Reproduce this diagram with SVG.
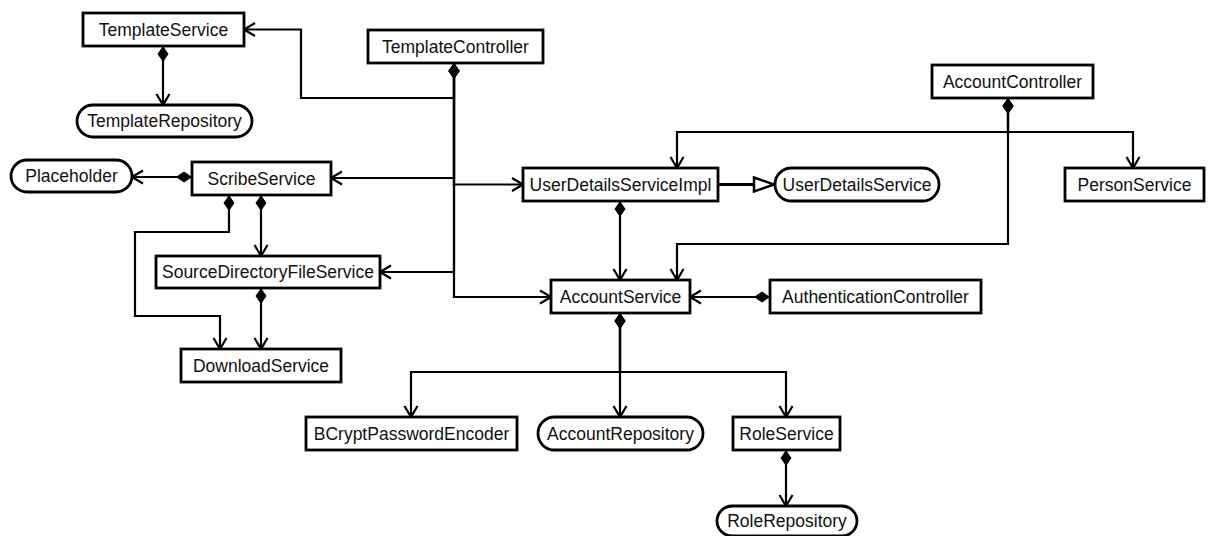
<svg xmlns="http://www.w3.org/2000/svg" width="1208" height="536" viewBox="0 0 1208 536">
  <style>
    .box { fill: #fff; stroke: #000; stroke-width: 2.8; }
    .lbl { font-family: "Liberation Sans", Arial, sans-serif; font-size: 17.5px; fill: #111; text-anchor: middle; }
    .edge { fill: none; stroke: #000; stroke-width: 2.2; marker-start: url(#comp); marker-end: url(#dep); }
    .impl { fill: none; stroke: #000; stroke-width: 3; marker-end: url(#gen); }
  </style>
  <defs>
    <!-- filled composition diamond at the owning end -->
    <marker id="comp" markerUnits="userSpaceOnUse" orient="auto" refX="0" refY="0" markerWidth="20" markerHeight="14" overflow="visible">
      <path d="M0,0 L8,-5.5 L16,0 L8,5.5 Z" fill="#000" stroke="none"/>
    </marker>
    <!-- open dependency arrowhead -->
    <marker id="dep" markerUnits="userSpaceOnUse" orient="auto" refX="0" refY="0" markerWidth="14" markerHeight="16" overflow="visible">
      <path d="M-11,-6.5 L0,0 L-11,6.5" fill="none" stroke="#000" stroke-width="2.2"/>
    </marker>
    <!-- hollow generalisation triangle -->
    <marker id="gen" markerUnits="userSpaceOnUse" orient="auto" refX="0" refY="0" markerWidth="26" markerHeight="18" overflow="visible">
      <path d="M-21,-7 L-1,0 L-21,7 Z" fill="#fff" stroke="#000" stroke-width="2.5"/>
    </marker>
  </defs>

  <rect width="1208" height="536" fill="#fff"/>

  <g id="connectors">
    <path class="edge" d="M454,63 V98 H301 V29.5 H244"/>
    <path class="edge" d="M454,63 V178 H331"/>
    <path class="edge" d="M454,63 V184.5 H523"/>
    <path class="edge" d="M454,63 V272 H380"/>
    <path class="edge" d="M454,63 V297 H551"/>
    <path class="edge" d="M163,46 V105"/>
    <path class="edge" d="M192,177 H132"/>
    <path class="edge" d="M261,195 V256"/>
    <path class="edge" d="M229,195 V232 H135 V316 H220 V349"/>
    <path class="edge" d="M261,288 V349"/>
    <path class="impl" d="M718,184.5 H775"/>
    <path class="edge" d="M620,201 V280"/>
    <path class="edge" d="M1008,98 V132 H1133 V168"/>
    <path class="edge" d="M1008,98 V132 H677 V168"/>
    <path class="edge" d="M1008,98 V244 H677 V280"/>
    <path class="edge" d="M770,297 H690"/>
    <path class="edge" d="M620,313 V372 H411 V417"/>
    <path class="edge" d="M620,313 V417"/>
    <path class="edge" d="M620,313 V372 H786 V417"/>
    <path class="edge" d="M786,450 V506"/>
  </g>

  <g id="TemplateService"><rect class="box" x="83" y="13" width="161" height="33"/><text class="lbl" x="163.5" y="35.5">TemplateService</text></g>
  <g id="TemplateRepository"><rect class="box" x="77" y="105" width="175" height="32" rx="16"/><text class="lbl" x="164.5" y="127">TemplateRepository</text></g>
  <g id="TemplateController"><rect class="box" x="368" y="30" width="175" height="33"/><text class="lbl" x="455.5" y="52.5">TemplateController</text></g>
  <g id="Placeholder"><rect class="box" x="11" y="160" width="121" height="32" rx="16"/><text class="lbl" x="71.5" y="182">Placeholder</text></g>
  <g id="ScribeService"><rect class="box" x="192" y="162" width="139" height="33"/><text class="lbl" x="261.5" y="184.5">ScribeService</text></g>
  <g id="SourceDirectoryFileService"><rect class="box" x="156" y="256" width="224" height="32"/><text class="lbl" x="268" y="278">SourceDirectoryFileService</text></g>
  <g id="DownloadService"><rect class="box" x="181" y="349" width="160" height="33"/><text class="lbl" x="261" y="371.5">DownloadService</text></g>
  <g id="UserDetailsServiceImpl"><rect class="box" x="523" y="168" width="195" height="33"/><text class="lbl" x="620.5" y="190.5">UserDetailsServiceImpl</text></g>
  <g id="UserDetailsService"><rect class="box" x="775" y="168" width="164" height="33" rx="16.5"/><text class="lbl" x="857" y="190.5">UserDetailsService</text></g>
  <g id="AccountController"><rect class="box" x="932" y="65" width="161" height="33"/><text class="lbl" x="1012.5" y="87.5">AccountController</text></g>
  <g id="PersonService"><rect class="box" x="1065" y="168" width="139" height="33"/><text class="lbl" x="1134.5" y="190.5">PersonService</text></g>
  <g id="AccountService"><rect class="box" x="551" y="280" width="139" height="33"/><text class="lbl" x="620.5" y="302.5">AccountService</text></g>
  <g id="AuthenticationController"><rect class="box" x="770" y="280" width="211" height="33"/><text class="lbl" x="875.5" y="302.5">AuthenticationController</text></g>
  <g id="BCryptPasswordEncoder"><rect class="box" x="306" y="417" width="211" height="33"/><text class="lbl" x="411.5" y="439.5">BCryptPasswordEncoder</text></g>
  <g id="AccountRepository"><rect class="box" x="538" y="417" width="165" height="33" rx="16.5"/><text class="lbl" x="620.5" y="439.5">AccountRepository</text></g>
  <g id="RoleService"><rect class="box" x="733" y="417" width="107" height="33"/><text class="lbl" x="786.5" y="439.5">RoleService</text></g>
  <g id="RoleRepository"><rect class="box" x="717" y="506" width="140" height="30" rx="15"/><text class="lbl" x="787" y="527">RoleRepository</text></g>
</svg>
